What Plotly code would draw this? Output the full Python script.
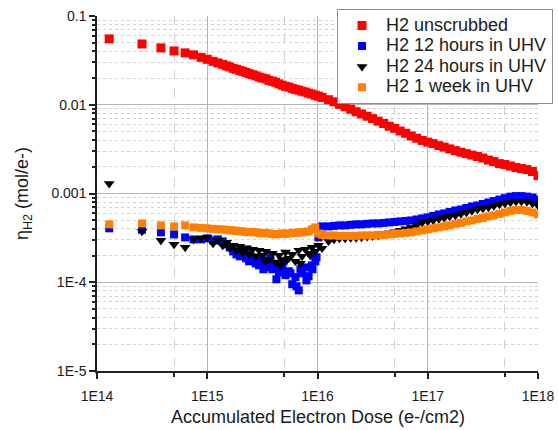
import plotly.graph_objects as go

# ---- data ----
DOSE = [1.29e14, 2.56e14, 3.8e14, 5.0e14, 6.3e14, 7.5e14, 8.8e14, 1.0e15, 1.13e15, 1.25e15,
        1.38e15, 1.5e15, 1.6e15, 1.72e15, 1.84e15, 1.97e15, 2.1e15, 2.25e15, 2.4e15, 2.58e15,
        2.76e15, 2.95e15, 3.16e15, 3.4e15, 3.63e15, 3.9e15, 4.17e15, 4.47e15, 4.8e15, 5.13e15,
        5.5e15, 5.9e15, 6.3e15, 6.76e15, 7.24e15, 7.76e15, 8.3e15, 8.9e15, 9.55e15, 1.02e16,
        1.1e16, 1.26e16, 1.41e16, 1.58e16, 1.78e16, 2.0e16, 2.24e16, 2.51e16, 2.82e16, 3.16e16,
        3.55e16, 3.98e16, 4.47e16, 5.01e16, 5.62e16, 6.31e16, 7.08e16, 7.94e16, 8.91e16, 1.0e17,
        1.12e17, 1.26e17, 1.41e17, 1.58e17, 1.78e17, 2.0e17, 2.24e17, 2.51e17, 2.82e17, 3.16e17,
        3.55e17, 3.98e17, 4.47e17, 5.01e17, 5.62e17, 6.31e17, 7.08e17, 7.94e17, 8.91e17, 1.0e18]

H2_UNSCRUBBED = [0.0552, 0.0484, 0.0437, 0.0404, 0.0384, 0.0365, 0.0342, 0.0325, 0.0308, 0.0296,
                 0.0285, 0.0274, 0.0267, 0.0257, 0.0251, 0.0244, 0.0238, 0.0231, 0.0224, 0.0218,
                 0.0212, 0.0205, 0.0200, 0.0196, 0.0188, 0.0184, 0.0179, 0.0172, 0.0166, 0.0161,
                 0.0158, 0.0153, 0.0149, 0.0146, 0.0142, 0.0139, 0.0135, 0.0132, 0.0128, 0.0125,
                 0.0121, 0.0114, 0.0108, 0.0101, 0.0095, 0.0089, 0.00834, 0.00787, 0.00743, 0.00697,
                 0.00653, 0.00615, 0.00573, 0.00542, 0.00506, 0.00477, 0.00445, 0.00420, 0.00396, 0.00379,
                 0.00365, 0.00346, 0.00333, 0.00318, 0.00304, 0.00292, 0.00281, 0.00271, 0.00261, 0.00251,
                 0.00238, 0.00229, 0.00217, 0.00212, 0.00204, 0.00196, 0.00191, 0.00186, 0.00177, 0.00159]

H2_12H = [4.05e-4, 3.9e-4, 3.65e-4, 3.46e-4, 3.2e-4, 3.04e-4, 3.04e-4, 3.12e-4, 2.96e-4, 3.04e-4,
          2.89e-4, 2.67e-4, 2.47e-4, 2.23e-4, 2.06e-4, 1.96e-4, 2.12e-4, 1.86e-4, 1.72e-4, 1.91e-4,
          1.63e-4, 1.55e-4, 1.77e-4, 1.47e-4, 1.63e-4, 1.40e-4, 1.55e-4, 1.29e-4, 1.43e-4, 1.20e-4,
          1.33e-4, 9.5e-5, 1.14e-4, 8.1e-5, 1.26e-4, 1.47e-4, 1.17e-4, 1.55e-4, 1.72e-4, 3.2e-4,
          4.26e-4, 4.26e-4, 4.31e-4, 4.37e-4, 4.37e-4, 4.43e-4, 4.49e-4, 4.49e-4, 4.55e-4, 4.60e-4,
          4.60e-4, 4.66e-4, 4.72e-4, 4.78e-4, 4.85e-4, 4.91e-4, 4.97e-4, 5.10e-4, 5.24e-4, 5.38e-4,
          5.59e-4, 5.81e-4, 5.96e-4, 6.20e-4, 6.44e-4, 6.61e-4, 6.87e-4, 7.14e-4, 7.33e-4, 7.62e-4,
          7.92e-4, 8.23e-4, 8.56e-4, 8.87e-4, 9.22e-4, 9.34e-4, 9.34e-4, 9.22e-4, 8.98e-4, 8.56e-4]

H2_24H = [1.29e-3, 3.74e-4, 2.96e-4, 2.67e-4, 2.47e-4, 3.04e-4, 3.12e-4, 3.20e-4, 2.74e-4, 2.96e-4,
          2.60e-4, 2.81e-4, 2.41e-4, 2.60e-4, 2.29e-4, 2.54e-4, 2.18e-4, 2.41e-4, 2.06e-4, 2.35e-4,
          1.96e-4, 2.29e-4, 2.01e-4, 2.23e-4, 1.81e-4, 2.12e-4, 1.68e-4, 2.01e-4, 1.77e-4, 2.18e-4,
          1.86e-4, 2.06e-4, 1.72e-4, 2.29e-4, 1.96e-4, 2.35e-4, 2.12e-4, 2.47e-4, 2.23e-4, 2.60e-4,
          2.41e-4, 2.89e-4, 3.04e-4, 3.12e-4, 3.12e-4, 3.16e-4, 3.16e-4, 3.20e-4, 3.25e-4, 3.29e-4,
          3.37e-4, 3.46e-4, 3.60e-4, 3.69e-4, 3.84e-4, 3.99e-4, 4.15e-4, 4.37e-4, 4.72e-4, 4.85e-4,
          4.97e-4, 5.17e-4, 5.31e-4, 5.52e-4, 5.66e-4, 5.89e-4, 6.12e-4, 6.36e-4, 6.61e-4, 6.78e-4,
          6.96e-4, 7.24e-4, 7.52e-4, 7.72e-4, 7.92e-4, 8.13e-4, 8.13e-4, 8.03e-4, 7.72e-4, 7.33e-4]

H2_1WEEK = [4.49e-4, 4.60e-4, 4.37e-4, 4.26e-4, 4.37e-4, 4.15e-4, 4.10e-4, 4.05e-4, 3.99e-4, 3.94e-4,
            3.94e-4, 3.89e-4, 3.84e-4, 3.84e-4, 3.79e-4, 3.74e-4, 3.74e-4, 3.69e-4, 3.65e-4, 3.69e-4,
            3.65e-4, 3.60e-4, 3.55e-4, 3.60e-4, 3.55e-4, 3.50e-4, 3.46e-4, 3.50e-4, 3.55e-4, 3.50e-4,
            3.55e-4, 3.60e-4, 3.60e-4, 3.65e-4, 3.65e-4, 3.69e-4, 3.74e-4, 3.94e-4, 4.15e-4, 3.55e-4,
            3.42e-4, 3.37e-4, 3.37e-4, 3.33e-4, 3.33e-4, 3.33e-4, 3.33e-4, 3.37e-4, 3.37e-4, 3.37e-4,
            3.42e-4, 3.42e-4, 3.46e-4, 3.50e-4, 3.55e-4, 3.60e-4, 3.65e-4, 3.74e-4, 3.84e-4, 3.94e-4,
            4.05e-4, 4.15e-4, 4.26e-4, 4.37e-4, 4.55e-4, 4.66e-4, 4.85e-4, 4.97e-4, 5.17e-4, 5.31e-4,
            5.52e-4, 5.66e-4, 5.89e-4, 6.12e-4, 6.36e-4, 6.53e-4, 6.53e-4, 6.36e-4, 6.12e-4, 5.81e-4]

# extra scattered points of the noisy region (1E15..1E16)
DOSE_12H_EXTRA = [2.31e15, 2.73e15, 3.23e15, 3.74e15, 4.24e15, 4.91e15, 5.69e15, 6.44e15, 7.0e15, 7.94e15, 9.0e15, 9.8e15]
H2_12H_EXTRA = [2.35e-4, 1.72e-4, 1.40e-4, 1.91e-4, 1.08e-4, 1.72e-4, 1.26e-4, 9.0e-5, 1.40e-4, 1.05e-4, 1.40e-4, 1.91e-4]
DOSE_24H_EXTRA = [2.0e15, 3.37e15, 4.61e15, 5.3e15, 7.0e15, 8.6e15]
H2_24H_EXTRA = [2.3e-4, 1.72e-4, 1.55e-4, 1.8e-4, 1.63e-4, 2.0e-4]

SERIES_NAMES = ["H2 unscrubbed", "H2 12 hours in UHV", "H2 24 hours in UHV", "H2 1 week in UHV"]
X_TICKS = [1e14, 1e15, 1e16, 1e17, 1e18]
X_TICKTEXT = ["1E14", "1E15", "1E16", "1E17", "1E18"]
Y_TICKS = [1e-5, 1e-4, 1e-3, 1e-2, 1e-1]
Y_TICKTEXT = ["1E-5", "1E-4", "0.001", "0.01", "0.1"]
X_TITLE = "Accumulated Electron Dose (e-/cm2)"
Y_TITLE = "η<sub>H2</sub> (mol/e-)"

FONT = "Arial, 'Liberation Sans', sans-serif"
TXT = "#1a1a1a"


def legend_name(s):
    # legend text is drawn at 18px while rows keep the compact spacing of the original
    return '<span style="font-size:18px">' + s + '</span>'


fig = go.Figure()
fig.add_trace(go.Scatter(x=DOSE, y=H2_UNSCRUBBED, mode="markers", name=legend_name(SERIES_NAMES[0]),
                         marker=dict(symbol="square", size=9, color="#ff0000", line=dict(width=0))))
fig.add_trace(go.Scatter(x=DOSE + DOSE_12H_EXTRA, y=H2_12H + H2_12H_EXTRA, mode="markers",
                         name=legend_name(SERIES_NAMES[1]),
                         marker=dict(symbol="square", size=8, color="#0000ff", line=dict(width=0))))
fig.add_trace(go.Scatter(x=DOSE + DOSE_24H_EXTRA, y=H2_24H + H2_24H_EXTRA, mode="markers",
                         name=legend_name(SERIES_NAMES[2]),
                         marker=dict(symbol="triangle-down", size=9.5, color="#000000", line=dict(width=0))))
fig.add_trace(go.Scatter(x=DOSE, y=H2_1WEEK, mode="markers", name=legend_name(SERIES_NAMES[3]),
                         marker=dict(symbol="square", size=8, color="#ff8000", line=dict(width=0))))

y_minor = [k * 10.0 ** d for d in range(-5, -1) for k in range(2, 10)]

fig.update_xaxes(
    type="log", range=[14, 18],
    tickvals=X_TICKS, ticktext=X_TICKTEXT,
    ticks="outside", ticklen=6, tickwidth=1.5, tickcolor="#222",
    showline=True, linecolor="#222", linewidth=1.5,
    showgrid=True, gridcolor="#b4b4b4", gridwidth=1, zeroline=False,
    minor=dict(tickvals=[5e14, 5e15, 5e16, 5e17], ticks="outside", ticklen=4, tickcolor="#222",
               showgrid=True, gridcolor="#cfcfcf", griddash="dash", gridwidth=1),
    tickfont=dict(size=14, color=TXT, family=FONT),
    ticklabelstandoff=5,
)
fig.update_yaxes(
    type="log", range=[-5, -1],
    tickvals=Y_TICKS, ticktext=Y_TICKTEXT,
    ticks="outside", ticklen=6, tickwidth=1.5, tickcolor="#222",
    showline=True, linecolor="#222", linewidth=1.5,
    showgrid=True, gridcolor="#b4b4b4", gridwidth=1, zeroline=False,
    minor=dict(tickvals=y_minor, ticks="outside", ticklen=3, tickcolor="#222",
               showgrid=True, gridcolor="#d2d2d2", griddash="dot", gridwidth=1),
    tickfont=dict(size=14, color=TXT, family=FONT),
    title=dict(text=Y_TITLE, font=dict(size=18, color=TXT, family=FONT), standoff=18),
)

fig.add_annotation(text=X_TITLE, xref="paper", yref="paper", x=0.5, y=-0.13,
                   xanchor="center", yanchor="middle", showarrow=False,
                   font=dict(size=18, color=TXT, family=FONT))

fig.update_layout(
    width=558, height=430,
    margin=dict(l=97, r=20, t=16, b=59, autoexpand=False),
    paper_bgcolor="white", plot_bgcolor="white",
    font=dict(family=FONT, color=TXT),
    legend=dict(x=1.034, y=1.019, xanchor="right", yanchor="top",
                bgcolor="white", bordercolor="#8c8c8c", borderwidth=1,
                font=dict(size=13.5, color=TXT, family=FONT),
                itemwidth=38, tracegroupgap=0),
)

fig.write_html("out.html")
